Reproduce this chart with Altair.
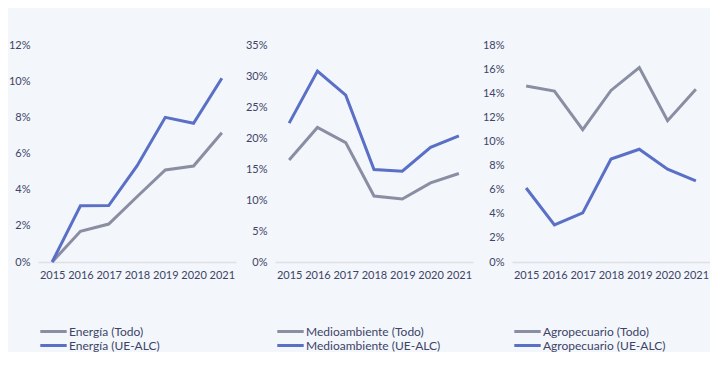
import altair as alt
import pandas as pd

years = ["2015", "2016", "2017", "2018", "2019", "2020", "2021"]

energia_todo = [0.0, 1.70, 2.10, 3.61, 5.09, 5.31, 7.15]
energia_ue = [0.0, 3.11, 3.12, 5.31, 8.00, 7.67, 10.16]
medio_todo = [16.44, 21.7, 19.26, 10.64, 10.15, 12.75, 14.27]
medio_ue = [22.4, 30.8, 26.9, 14.9, 14.65, 18.5, 20.35]
agro_todo = [14.6, 14.18, 10.97, 14.23, 16.13, 11.72, 14.32]
agro_ue = [6.14, 3.07, 4.07, 8.54, 9.35, 7.70, 6.73]

panels = [
    ("Energía", energia_todo, energia_ue, [0, 2, 4, 6, 8, 10, 12]),
    ("Medioambiente", medio_todo, medio_ue, [0, 5, 10, 15, 20, 25, 30, 35]),
    ("Agropecuario", agro_todo, agro_ue, [0, 2, 4, 6, 8, 10, 12, 14, 16, 18]),
]

GRAY = "#8a8ea3"
BLUE = "#5a6fc6"
TEXT = "#3d4466"
FONT = "Lato"


def make_panel(name, todo, ue, ticks):
    s1 = f"{name} (Todo)"
    s2 = f"{name} (UE-ALC)"
    rows = []
    for y, v in zip(years, todo):
        rows.append({"year": y, "value": v / 100, "serie": s1})
    for y, v in zip(years, ue):
        rows.append({"year": y, "value": v / 100, "serie": s2})
    df = pd.DataFrame(rows)
    return (
        alt.Chart(df)
        .mark_line(strokeWidth=3)
        .encode(
            x=alt.X("year:O", title=None, scale=alt.Scale(type="point", padding=0.5),
                    axis=alt.Axis(labelAngle=0, ticks=False, domainColor="#dde0e8",
                                  domainWidth=1.5, labelPadding=7)),
            y=alt.Y("value:Q", title=None,
                    scale=alt.Scale(domain=[0, ticks[-1] / 100], nice=False, zero=True),
                    axis=alt.Axis(values=[t / 100 for t in ticks], format=".0%", grid=False,
                                  domain=False, ticks=False, labelPadding=8)),
            color=alt.Color("serie:N", title=None,
                            scale=alt.Scale(domain=[s1, s2], range=[GRAY, BLUE]),
                            legend=alt.Legend(orient="none", legendX=8, legendY=279,
                                              symbolType="M-2.2,0H2.2", symbolSize=144,
                                              symbolStrokeWidth=3, rowPadding=-2,
                                              labelOffset=8, labelFontSize=12)),
        )
        .properties(width=198, height=217)
    )


charts = [make_panel(*p) for p in panels]

chart = (
    alt.hconcat(*charts, spacing=9)
    .resolve_scale(color="independent", y="independent")
    .properties(padding={"left": 0, "top": 31, "right": 0, "bottom": 0})
    .configure(background="#f3f6fb", font=FONT)
    .configure_view(stroke=None)
    .configure_axis(labelFont=FONT, labelFontSize=11, labelColor=TEXT)
    .configure_legend(labelFont=FONT, labelColor=TEXT)
)

chart.save("out.html", embed_options={"renderer": "svg", "actions": False})
